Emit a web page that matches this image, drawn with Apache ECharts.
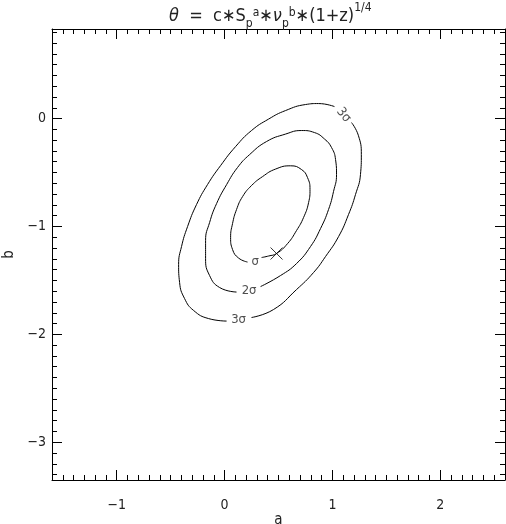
<!DOCTYPE html>
<html>
	<head>
		<meta charset="UTF-8">
		<title>contours</title>
		<style>
			html, body { margin: 0; padding: 0; background: #fff; }
			#chart { width: 506px; height: 524px; }
		</style>
	</head>
	<body>
		<div id="chart"></div>
	</body>
	<script type="text/javascript" src="https://cdn.jsdelivr.net/npm/echarts@6/dist/echarts.min.js"></script>
	<script>
		// contour points, [a, b]
		var sigma1 = [
			[0.343, -1.288], [0.408, -1.274], [0.482, -1.251], [0.584, -1.159], [0.667, -1.038],
			[0.732, -0.918], [0.779, -0.779], [0.792, -0.658], [0.769, -0.547], [0.714, -0.473],
			[0.612, -0.438], [0.473, -0.468], [0.352, -0.538], [0.250, -0.621], [0.167, -0.723],
			[0.111, -0.843], [0.074, -0.973], [0.056, -1.103], [0.074, -1.214], [0.130, -1.293],
			[0.213, -1.330]
		];
		var sigma2 = [
			[0.334, -1.557], [0.519, -1.455], [0.667, -1.344], [0.797, -1.186], [0.890, -1.019],
			[0.964, -0.843], [1.010, -0.677], [1.038, -0.519], [1.029, -0.380], [0.992, -0.269],
			[0.927, -0.190], [0.834, -0.130], [0.714, -0.111], [0.565, -0.144], [0.389, -0.213],
			[0.232, -0.334], [0.120, -0.454], [0.019, -0.612], [-0.074, -0.788], [-0.139, -0.964],
			[-0.176, -1.131], [-0.176, -1.298], [-0.139, -1.455], [-0.046, -1.566], [0.111, -1.608]
		];
		// 3 sigma is cut in two pieces by its labels
		var sigma3a = [
			[0.250, -1.844], [0.454, -1.770], [0.667, -1.585], [0.825, -1.427], [0.936, -1.279],
			[1.057, -1.094], [1.149, -0.890], [1.214, -0.704], [1.260, -0.519], [1.268, -0.334],
			[1.240, -0.155], [1.177, -0.037]
		];
		var sigma3b = [
			[1.019, 0.111], [0.871, 0.139], [0.751, 0.130], [0.565, 0.074], [0.408, -0.005],
			[0.250, -0.111], [0.102, -0.260], [-0.037, -0.436], [-0.158, -0.612], [-0.260, -0.797],
			[-0.343, -1.001], [-0.399, -1.186], [-0.426, -1.353], [-0.417, -1.520], [-0.371, -1.668],
			[-0.287, -1.779], [-0.148, -1.854], [0.019, -1.877]
		];
		var bestFit = [[0.482, -1.251]];
		var labelText = ['σ', '2σ', '3σ', '3σ'];
		var labelPos = [[0.283, -1.325], [0.227, -1.594], [0.130, -1.868], [1.103, 0.032]];
		var labelRotate = [0, 0, 0, -50];
		var xRange = [-1.6, 2.6];
		var yRange = [-3.35, 0.83];

		var txt = '#222';
		var font = 'DejaVu Sans Condensed';

		function minus(v) {
			return v < 0 ? '\u2212' + (-v) : '' + v;
		}

		function xAx(pos, showLabel) {
			return {
				type: 'value', position: pos, min: xRange[0], max: xRange[1], splitNumber: 4,
				name: showLabel ? 'a' : '', nameLocation: 'middle', nameGap: 33, nameMoveOverlap: false,
				nameTextStyle: { color: txt, fontSize: 15, fontFamily: font },
				axisLine: { show: true, onZero: false, lineStyle: { color: '#000', width: 1 } },
				axisTick: { show: true, inside: true, length: 10, lineStyle: { color: '#000' } },
				minorTick: { show: true, splitNumber: 10, length: 5, lineStyle: { color: '#000' } },
				splitLine: { show: false },
				axisLabel: {
					show: showLabel, margin: 18, color: txt, fontSize: 14, fontFamily: font,
					showMinLabel: false, showMaxLabel: false, formatter: minus
				}
			};
		}
		function yAx(pos, showLabel) {
			return {
				type: 'value', position: pos, min: yRange[0], max: yRange[1], splitNumber: 4,
				name: showLabel ? 'b' : '', nameLocation: 'middle', nameGap: 35, nameMoveOverlap: false,
				nameTextStyle: { color: txt, fontSize: 15, fontFamily: font },
				axisLine: { show: true, onZero: false, lineStyle: { color: '#000', width: 1 } },
				axisTick: { show: true, inside: true, length: 10, lineStyle: { color: '#000' } },
				minorTick: { show: true, splitNumber: 10, length: 5, lineStyle: { color: '#000' } },
				splitLine: { show: false },
				axisLabel: {
					show: showLabel, margin: 6, color: txt, fontSize: 14, fontFamily: font,
					showMinLabel: false, showMaxLabel: false, formatter: minus
				}
			};
		}

		function contour(data) {
			return {
				type: 'line', data: data, smooth: 0.5, showSymbol: false, silent: true,
				lineStyle: { color: '#000', width: 1 }, xAxisIndex: 0, yAxisIndex: 0
			};
		}

		var labelData = labelText.map(function (t, i) {
			return {
				value: labelPos[i], name: t,
				label: { rotate: labelRotate[i] }
			};
		});

		var myChart = echarts.init(document.getElementById('chart'));
		var option = {
			animation: false,
			backgroundColor: '#fff',
			title: {
				text: '{g|θ}  =  c∗S{sb|p}{sp|a}∗{g|ν}{sb|p}{sp|b}∗(1+z){sq|1/4}',
				left: 164, top: -2,
				textStyle: {
					fontSize: 18, fontWeight: 'normal', color: txt, fontFamily: font, lineHeight: 26,
					rich: {
						g: { fontSize: 18, fontStyle: 'italic', lineHeight: 26, color: txt, fontFamily: font },
						sb: { fontSize: 12, lineHeight: 26, padding: [15, 0, 0, 0], color: txt, fontFamily: font },
						sp: { fontSize: 12, lineHeight: 26, padding: [0, 0, 6, 0], color: txt, fontFamily: font },
						sq: { fontSize: 12, lineHeight: 26, padding: [0, 0, 16, 0], color: txt, fontFamily: font }
					}
				}
			},
			grid: { left: 52, right: 1, top: 29, bottom: 44, containLabel: false, outerBoundsMode: 'none' },
			xAxis: [xAx('bottom', true), xAx('top', false)],
			yAxis: [yAx('left', true), yAx('right', false)],
			series: [
				contour(sigma1),
				contour(sigma2),
				contour(sigma3a),
				contour(sigma3b),
				{
					type: 'scatter', data: bestFit, silent: true,
					symbol: 'path://M0,0L10,10M10,0L0,10', symbolSize: 12,
					itemStyle: { color: 'none', borderColor: '#000', borderWidth: 1 }
				},
				{
					type: 'scatter', data: labelData, symbolSize: 0, silent: true,
					label: {
						show: true, position: 'inside', formatter: '{b}',
						color: txt, fontSize: 13, fontFamily: font
					}
				}
			]
		};
		myChart.setOption(option);
	</script>
</html>
